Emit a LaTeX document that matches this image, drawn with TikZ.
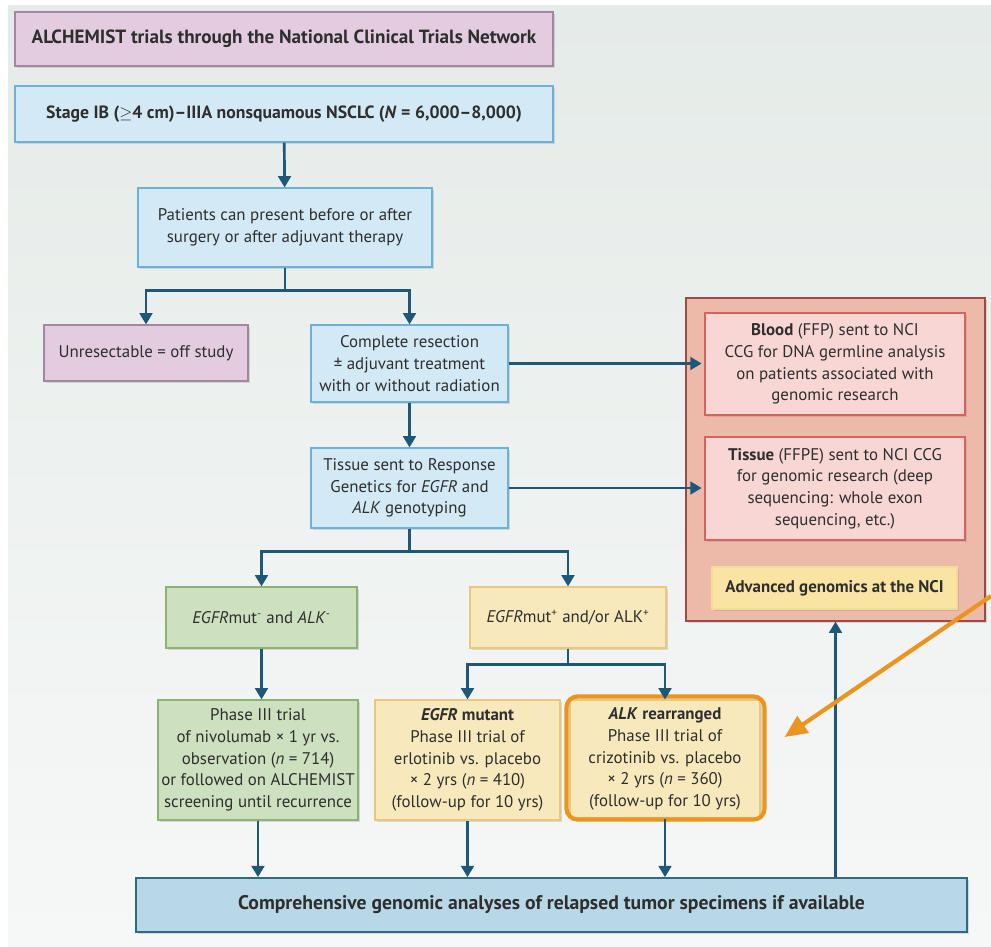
\documentclass[tikz,border=0pt]{standalone}
\usepackage{fontspec}
\setmainfont{PT Sans}
\usetikzlibrary{arrows.meta,shadows}

\definecolor{bgtop}{HTML}{E5EBE8}
\definecolor{bgbot}{HTML}{F6F8F7}
\definecolor{txtgray}{HTML}{2E2E2E}
\definecolor{arrowblue}{HTML}{1D5878}
\definecolor{purplefill}{HTML}{E3CCE0}
\definecolor{purpleline}{HTML}{A3869F}
\definecolor{bluefill}{HTML}{D3EAF6}
\definecolor{blueline}{HTML}{6AB2DA}
\definecolor{panelfill}{HTML}{EDBAAA}
\definecolor{panelline}{HTML}{9E4A44}
\definecolor{pinkfill}{HTML}{F8D6D3}
\definecolor{pinkline}{HTML}{D9625F}
\definecolor{advfill}{HTML}{FAE4A4}
\definecolor{advline}{HTML}{F6DA98}
\definecolor{greenfill}{HTML}{CDE0BF}
\definecolor{greenline}{HTML}{8DB276}
\definecolor{yellowfill}{HTML}{F8E9BC}
\definecolor{yellowline}{HTML}{E8C87A}
\definecolor{bottomfill}{HTML}{B9D8E7}
\definecolor{bottomline}{HTML}{2D6A87}
\definecolor{hiorange}{HTML}{E9951F}

\tikzset{
  box/.style={draw, line width=0.8pt, align=center, inner sep=0pt,
    text=txtgray, font=\fontsize{12}{15.4}\selectfont,
    drop shadow={shadow xshift=1.5pt, shadow yshift=-1.5pt, opacity=0.25}},
  boxsize/.style 2 args={minimum width=#1*0.025cm, minimum height=#2*0.025cm},
  purplebox/.style={box, draw=purpleline, fill=purplefill},
  bluebox/.style={box, draw=blueline, fill=bluefill},
  pinkbox/.style={box, draw=pinkline, fill=pinkfill},
  greenbox/.style={box, draw=greenline, fill=greenfill},
  yellowbox/.style={box, draw=yellowline, fill=yellowfill},
  flow/.style={draw=arrowblue, line width=1.9pt,
    -{Triangle[length=8pt,width=9pt]}},
  hilite/.style={draw=hiorange, line width=3pt, rounded corners=8pt},
}

\begin{document}
\begin{tikzpicture}[x=0.025cm, y=-0.025cm]
  \useasboundingbox (0,0) rectangle (991,946);
  \fill[white] (0,0) rectangle (991,946);
  \shade[top color=bgtop, bottom color=bgbot] (8,6) rectangle (991,946);

  % left column
  \node[purplebox, boxsize={538}{54}, font=\fontsize{13.6}{15.6}\selectfont\bfseries] (title) at (284,39)
    {ALCHEMIST trials through the National Clinical Trials Network};
  \node[bluebox, boxsize={538}{56}, font=\fontsize{12.6}{15.6}\selectfont\bfseries] (stage) at (284,114)
    {Stage IB ($\geq$4 cm)--IIIA nonsquamous NSCLC (\textit{N} = 6,000--8,000)};
  \node[bluebox, boxsize={294}{79}] (present) at (285,227.5)
    {Patients can present before or after\\surgery or after adjuvant therapy};
  \node[purplebox, boxsize={204}{56}] (unres) at (146,353)
    {Unresectable = off study};
  \node[bluebox, boxsize={197}{77}] (resect) at (409.5,363.5)
    {Complete resection\\± adjuvant treatment\\with or without radiation};
  \node[bluebox, boxsize={197}{80}] (geno) at (409.5,488)
    {Tissue sent to Response\\Genetics for \textit{EGFR} and\\\textit{ALK} genotyping};

  % NCI panel
  \node[box, draw=panelline, fill=panelfill, boxsize={299}{323}] (panel) at (835.5,459.5) {};
  \node[pinkbox, boxsize={260}{102}] (blood) at (835,364)
    {\textbf{Blood} (FFP) sent to NCI\\CCG for DNA germline analysis\\on patients associated with\\genomic research};
  \node[pinkbox, boxsize={260}{103}] (ffpe) at (835,488.5)
    {\textbf{Tissue} (FFPE) sent to NCI CCG\\for genomic research (deep\\sequencing: whole exon\\sequencing, etc.)};
  \node[box, draw=advline, fill=advfill, boxsize={245}{42}, drop shadow={opacity=0}] (adv) at (834.5,588)
    {\textbf{Advanced genomics at the NCI}};

  % genotype groups
  \node[greenbox, boxsize={191}{61}] (neg) at (261.5,617.5)
    {\textit{EGFR}mut\textsuperscript{-} and \textit{ALK}\textsuperscript{-}};
  \node[yellowbox, boxsize={196}{61}] (pos) at (568,617.5)
    {\textit{EGFR}mut\textsuperscript{+} and/or ALK\textsuperscript{+}};
  \node[greenbox, boxsize={200}{120}] (nivo) at (258,760)
    {Phase III trial\\of nivolumab × 1 yr vs.\\observation (\textit{n} = 714)\\or followed on ALCHEMIST\\screening until recurrence};
  \node[yellowbox, boxsize={185}{120}] (egfrm) at (467.5,760)
    {\textit{\textbf{EGFR}} \textbf{mutant}\\Phase III trial of\\erlotinib vs. placebo\\× 2 yrs (\textit{n} = 410)\\(follow-up for 10 yrs)};
  \node[yellowbox, boxsize={190}{118}] (alk) at (665,759)
    {\textit{\textbf{ALK}} \textbf{rearranged}\\Phase III trial of\\crizotinib vs. placebo\\× 2 yrs (\textit{n} = 360)\\(follow-up for 10 yrs)};
  \draw[hilite] ([shift={(-3,-3)}]alk.north west) rectangle ([shift={(4,1)}]alk.south east);

  \node[box, draw=bottomline, fill=bottomfill, line width=1.2pt, boxsize={831}{54},
    font=\fontsize{14}{15.6}\selectfont\bfseries] (relapse) at (551.5,905)
    {Comprehensive genomic analyses of relapsed tumor specimens if available};

  % connectors
  \draw[flow] (stage) -- (present);
  \draw[flow] (present.south) -- ++(0,23) -| (unres.north);
  \draw[flow] (present.south) -- ++(0,23) -| (resect.north);
  \draw[flow] (resect) -- (geno);
  \draw[flow] (resect.east) -- ([xshift=-2pt]resect.east -| blood.west);
  \draw[flow] (geno.east) -- ([xshift=-2pt]geno.east -| ffpe.west);
  \draw[flow] (geno.south) -- ++(0,23) -| (neg.north);
  \draw[flow] (geno.south) -- ++(0,23) -| (pos.north);
  \draw[flow] (neg.south) -- (neg.south |- nivo.north);
  \draw[flow] (pos.south) -- ++(0,16) -| (egfrm.north);
  \draw[flow] (pos.south) -- ++(0,16) -| (alk.north);
  \draw[flow] (nivo) -- (nivo |- relapse.north);
  \draw[flow] (egfrm) -- (egfrm |- relapse.north);
  \draw[flow] (alk) -- (alk |- relapse.north);
  \draw[flow] (relapse.north -| panel.south) -- (panel.south);

  % highlight pointer
  \coordinate (pointer) at (991,596);
  \draw[draw=hiorange, line width=3pt, -{Triangle[length=16pt,width=14pt]}]
    (pointer) -- ([shift={(24,-22)}]alk.east);
\end{tikzpicture}
\end{document}
